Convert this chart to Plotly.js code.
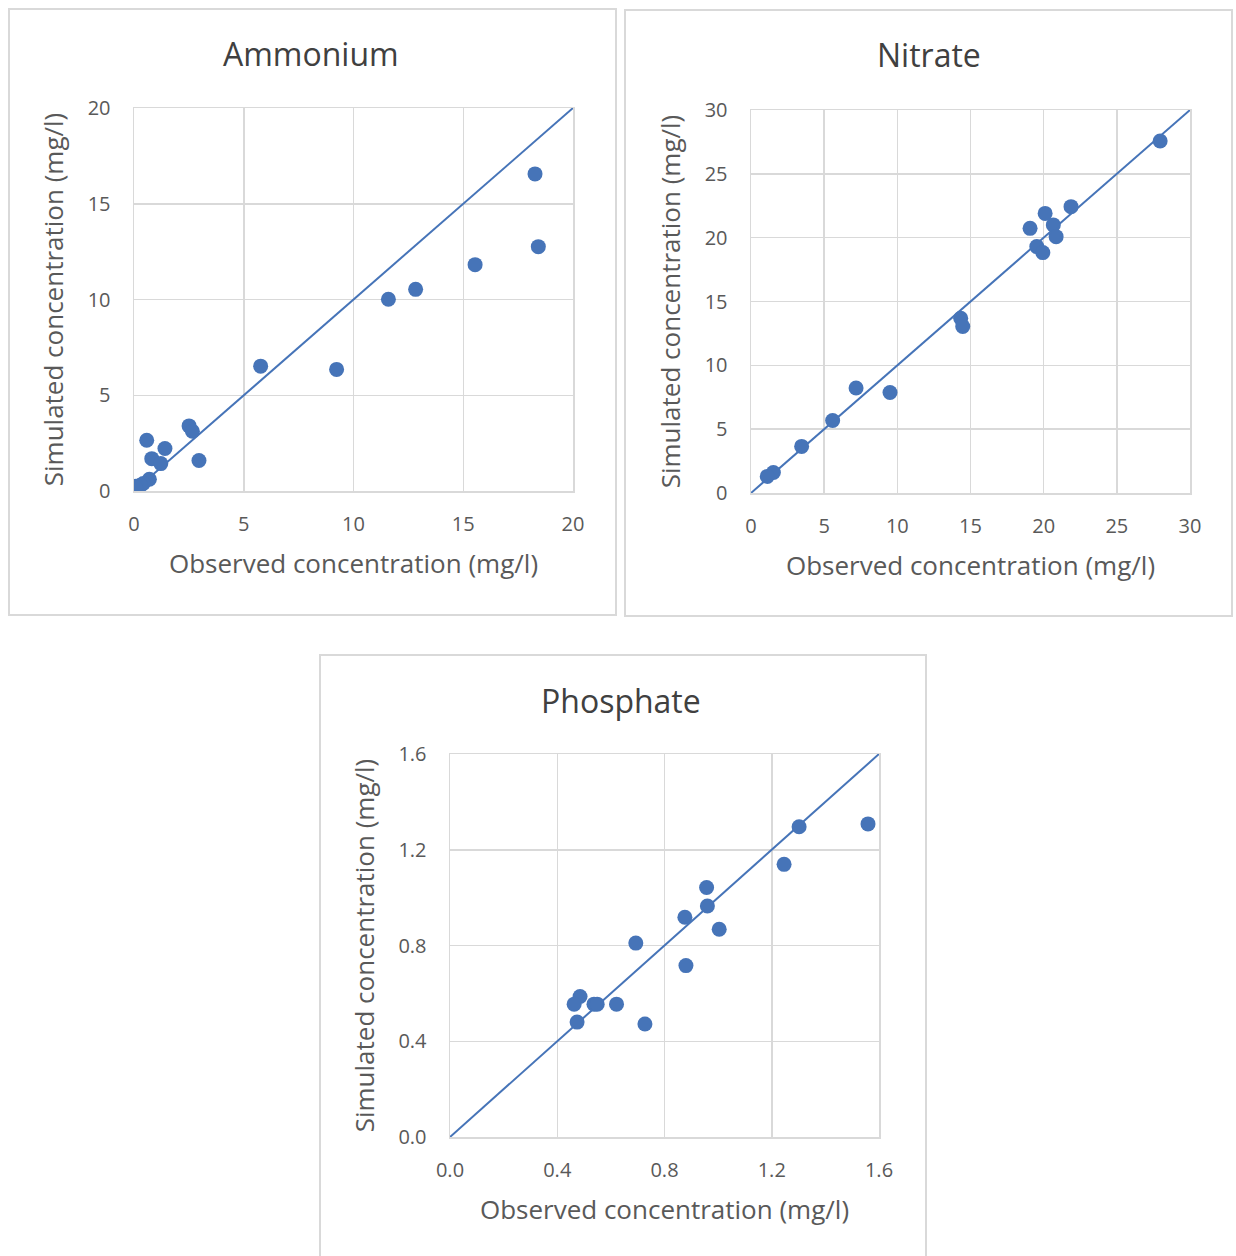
<!DOCTYPE html>
<html>
<head>
<meta charset="utf-8">
<script src="https://cdn.plot.ly/plotly-3.0.1.min.js"></script>
<style>html,body{margin:0;padding:0;background:#fff;}#chart{width:1236px;height:1256px;}</style>
</head>
<body>
<div id="chart"></div>
<script>
// Ammonium (mg/l)
const ammoniumObserved  = [18.27, 18.42, 15.54, 12.83, 11.59, 9.23, 5.77, 2.51, 2.66, 2.96, 0.58, 1.41, 0.81, 1.22, 0.70, 0.42, 0.30, 0.10, 0.05];
const ammoniumSimulated = [16.56, 12.76, 11.82, 10.53, 10.01, 6.35, 6.52, 3.40, 3.12, 1.59, 2.65, 2.22, 1.69, 1.43, 0.61, 0.39, 0.30, 0.25, 0.20];
// Nitrate (mg/l)
const nitrateObserved  = [27.96, 21.87, 20.10, 19.07, 20.66, 20.85, 19.53, 19.94, 14.33, 14.47, 7.18, 9.50, 5.58, 3.46, 1.53, 1.11];
const nitrateSimulated = [27.57, 22.43, 21.90, 20.73, 21.00, 20.08, 19.30, 18.83, 13.69, 13.04, 8.22, 7.87, 5.68, 3.65, 1.61, 1.30];
// Phosphate (mg/l)
const phosphateObserved  = [1.559, 1.302, 1.246, 0.957, 0.960, 0.876, 1.004, 0.693, 0.880, 0.485, 0.463, 0.537, 0.549, 0.621, 0.474, 0.727];
const phosphateSimulated = [1.308, 1.296, 1.139, 1.042, 0.965, 0.918, 0.868, 0.810, 0.716, 0.587, 0.555, 0.555, 0.555, 0.555, 0.480, 0.472];
// 1:1 reference lines
const ammoniumLine  = [0, 20];
const nitrateLine   = [0, 30];
const phosphateLine = [0, 1.6];
const panelTitles = ["Ammonium", "Nitrate", "Phosphate"];
const xTitle = "Observed concentration (mg/l)";
const yTitle = "Simulated concentration (mg/l)";

const W = 1236, H = 1256;
const FONT = "'Open Sans', sans-serif";
const BLUE = "#4674B8";
const GRID = "#d9d9d9";
const TICKC = "#595959";
const TITLEC = "#404040";

function px(x){ return x / W; }
function py(y){ return 1 - y / H; }

const panels = [
  {name: "1", obs: ammoniumObserved, sim: ammoniumSimulated, line: ammoniumLine, dtick: 5, fmt: "",
   plot: [134, 573, 108, 491], box: [9, 616, 9, 615], title: [311, 53]},
  {name: "2", obs: nitrateObserved, sim: nitrateSimulated, line: nitrateLine, dtick: 5, fmt: "",
   plot: [751, 1190, 110, 493], box: [625, 1232, 10, 616], title: [929, 55]},
  {name: "3", obs: phosphateObserved, sim: phosphateSimulated, line: phosphateLine, dtick: 0.4, fmt: ".1f",
   plot: [450, 879, 754, 1137], box: [320, 926, 655, 1262], title: [621, 700]}
];

const data = [];
const layout = {
  width: W, height: H,
  margin: {l: 0, r: 0, t: 0, b: 0},
  paper_bgcolor: "#ffffff",
  plot_bgcolor: "rgba(0,0,0,0)",
  showlegend: false,
  font: {family: FONT, color: TICKC},
  shapes: [],
  annotations: []
};

panels.forEach((p, i) => {
  const xa = i === 0 ? "x" : "x" + p.name;
  const ya = i === 0 ? "y" : "y" + p.name;
  data.push({
    type: "scatter", mode: "lines", x: p.line, y: p.line,
    xaxis: xa, yaxis: ya, line: {color: BLUE, width: 2}, hoverinfo: "skip"
  });
  data.push({
    type: "scatter", mode: "markers", x: p.obs, y: p.sim,
    xaxis: xa, yaxis: ya, marker: {color: BLUE, size: 15, line: {width: 0}}
  });
  const axCommon = {
    range: [p.line[0], p.line[1]], dtick: p.dtick, tick0: 0, tickformat: p.fmt,
    showgrid: true, gridcolor: GRID, gridwidth: 1.5,
    showline: true, linecolor: GRID, linewidth: 1.5, mirror: true,
    zeroline: false, ticks: "", fixedrange: true,
    tickfont: {family: FONT, size: 20, color: TICKC}
  };
  layout[i === 0 ? "xaxis" : "xaxis" + p.name] = Object.assign({}, axCommon, {
    domain: [px(p.plot[0]), px(p.plot[1])], anchor: ya,
    ticklabelstandoff: 14,
    title: {text: xTitle, font: {family: FONT, size: 26, color: TICKC}, standoff: 19}
  });
  layout[i === 0 ? "yaxis" : "yaxis" + p.name] = Object.assign({}, axCommon, {
    domain: [py(p.plot[3]), py(p.plot[2])], anchor: xa,
    ticklabelstandoff: 18,
    title: {text: yTitle, font: {family: FONT, size: 26, color: TICKC}, standoff: 16}
  });
  layout.shapes.push({
    type: "rect", xref: "paper", yref: "paper", layer: "below",
    x0: px(p.box[0]), x1: px(p.box[1]), y0: py(p.box[3]), y1: py(p.box[2]),
    line: {color: GRID, width: 2}, fillcolor: "#ffffff"
  });
  layout.annotations.push({
    text: panelTitles[i], xref: "paper", yref: "paper",
    x: px(p.title[0]), y: py(p.title[1]), xanchor: "center", yanchor: "middle",
    showarrow: false, font: {family: FONT, size: 32, color: TITLEC}
  });
});

Plotly.newPlot("chart", data, layout, {displayModeBar: false, staticPlot: true});
</script>
</body>
</html>
